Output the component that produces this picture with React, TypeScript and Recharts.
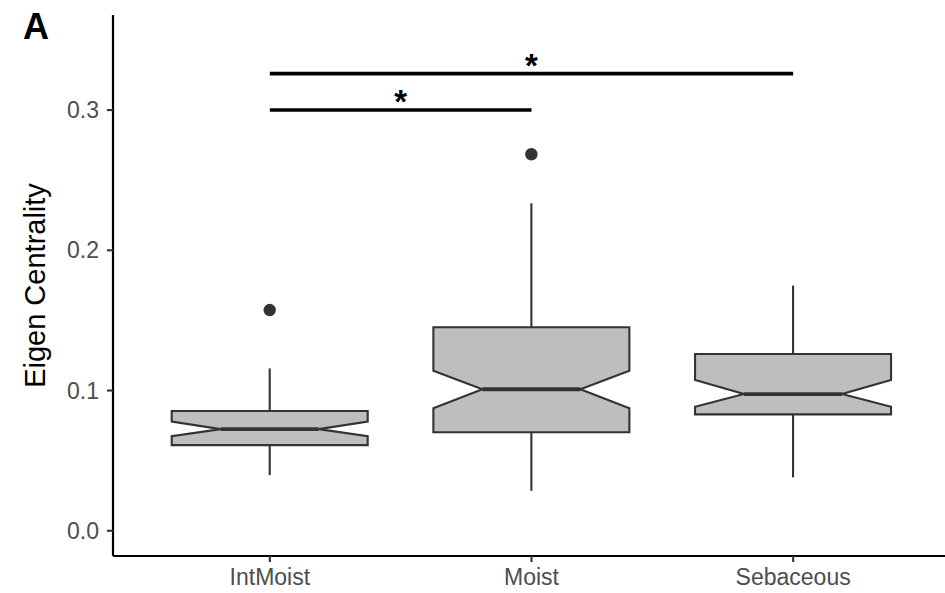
import React from "react";
import { ComposedChart, Bar, XAxis, YAxis, ReferenceLine } from "recharts";

const FONT = "'Liberation Sans', Arial, Helvetica, sans-serif";

// box statistics
const categories = ["IntMoist", "Moist", "Sebaceous"];
const whiskerLow = [0.0397, 0.0285, 0.0381];
const q1 = [0.0611, 0.0702, 0.083];
const notchLow = [0.0675, 0.0873, 0.0884];
const medians = [0.0725, 0.1009, 0.0975];
const notchHigh = [0.0778, 0.1141, 0.1075];
const q3 = [0.0854, 0.1451, 0.126];
const whiskerHigh = [0.1158, 0.2335, 0.1748];
const outliers = [[0.1574], [0.2685], []];

const yTicks = [0, 0.1, 0.2, 0.3];

// significance brackets
const brackets = [
    { from: "IntMoist", to: "Moist", y: 0.3, label: "*" },
    { from: "IntMoist", to: "Sebaceous", y: 0.326, label: "*" },
];

const data = categories.map((name, i) => ({
    name,
    range: [whiskerLow[i], whiskerHigh[i]],
    wLo: whiskerLow[i],
    q1: q1[i],
    nLo: notchLow[i],
    med: medians[i],
    nHi: notchHigh[i],
    q3: q3[i],
    wHi: whiskerHigh[i],
    out: outliers[i],
}));

const BOX_STROKE = "#333333";
const LW = 2.1;

const NotchedBox = (props: any) => {
    const { x, y, width, height, payload } = props;
    const top = Math.min(y, y + height);
    const h = Math.abs(height);
    const lo = payload.wLo;
    const hi = payload.wHi;
    // pixel of a value, from the bar's own scaled range
    const py = (v: number) => top + (h * (hi - v)) / (hi - lo);
    const xl = x;
    const xr = x + width;
    const cx = x + width / 2;
    const inset = width / 4;
    const pts = [
        [xl, py(payload.q3)],
        [xr, py(payload.q3)],
        [xr, py(payload.nHi)],
        [xr - inset, py(payload.med)],
        [xr, py(payload.nLo)],
        [xr, py(payload.q1)],
        [xl, py(payload.q1)],
        [xl, py(payload.nLo)],
        [xl + inset, py(payload.med)],
        [xl, py(payload.nHi)],
    ]
        .map((p) => p.join(","))
        .join(" ");
    return (
        <g>
            <line x1={cx} x2={cx} y1={py(payload.q3)} y2={py(hi)} stroke={BOX_STROKE} strokeWidth={LW} />
            <line x1={cx} x2={cx} y1={py(payload.q1)} y2={py(lo)} stroke={BOX_STROKE} strokeWidth={LW} />
            <polygon points={pts} fill="#bebebe" stroke={BOX_STROKE} strokeWidth={LW} strokeLinejoin="miter" />
            <line
                x1={xl + inset}
                x2={xr - inset}
                y1={py(payload.med)}
                y2={py(payload.med)}
                stroke={BOX_STROKE}
                strokeWidth={3.8}
            />
            {payload.out.map((v: number, k: number) => (
                <circle key={k} cx={cx} cy={py(v)} r={6.2} fill={BOX_STROKE} />
            ))}
        </g>
    );
};

const StarLabel = (props: any) => {
    const vb = props.viewBox || {};
    const x1 = vb.x1 ?? vb.x;
    const x2 = vb.x2 ?? vb.x + vb.width;
    const yy = vb.y1 ?? vb.y;
    return (
        <text
            x={(x1 + x2) / 2}
            y={yy + 3}
            textAnchor="middle"
            fontSize={33}
            fontWeight="bold"
            fontFamily={FONT}
            fill="#000"
        >
            {props.value}
        </text>
    );
};

const YTitle = (props: any) => {
    const vb = props.viewBox;
    const cy = vb.y + vb.height / 2;
    return (
        <text
            x={45}
            y={cy}
            transform={`rotate(-90, 45, ${cy})`}
            textAnchor="middle"
            fontSize={29}
            fontFamily={FONT}
            fill="#000"
        >
            Eigen Centrality
        </text>
    );
};

export default function App() {
    const tickStyle = { fill: "#4d4d4d", fontSize: 23, fontFamily: FONT };
    return (
        <div style={{ position: "absolute", left: 0, top: 0, width: 945, height: 593, overflow: "hidden", background: "#fff" }}>
            <div
                style={{
                    position: "absolute",
                    left: 23,
                    top: 9,
                    fontSize: 36,
                    lineHeight: 1,
                    fontWeight: "bold",
                    fontFamily: FONT,
                    color: "#000",
                }}
            >
                A
            </div>
            <ComposedChart width={950} height={593} data={data} margin={{ top: 15, right: 0, bottom: 0, left: 0 }} barCategoryGap="12.5%">
                <XAxis
                    dataKey="name"
                    type="category"
                    height={37}
                    interval={0}
                    padding={{ left: 26, right: 26 }}
                    tick={tickStyle}
                    tickSize={6}
                    tickMargin={7}
                    axisLine={{ stroke: "#000", strokeWidth: 2.2 }}
                    tickLine={{ stroke: BOX_STROKE, strokeWidth: 2.1 }}
                />
                <YAxis
                    type="number"
                    width={113}
                    domain={[-0.018, 0.3678]}
                    ticks={yTicks}
                    allowDataOverflow
                    tickFormatter={(v: number) => v.toFixed(1)}
                    tick={tickStyle}
                    tickSize={6}
                    tickMargin={8}
                    axisLine={{ stroke: "#000", strokeWidth: 2.2 }}
                    tickLine={{ stroke: BOX_STROKE, strokeWidth: 2.1 }}
                    label={<YTitle />}
                />
                <Bar dataKey="range" shape={<NotchedBox />} isAnimationActive={false} activeBar={false} />
                {brackets.map((b, i) => (
                    <ReferenceLine
                        key={i}
                        segment={[
                            { x: b.from, y: b.y },
                            { x: b.to, y: b.y },
                        ]}
                        stroke="#000"
                        strokeWidth={3.6}
                        ifOverflow="visible"
                        label={<StarLabel value={b.label} />}
                    />
                ))}
            </ComposedChart>
        </div>
    );
}
